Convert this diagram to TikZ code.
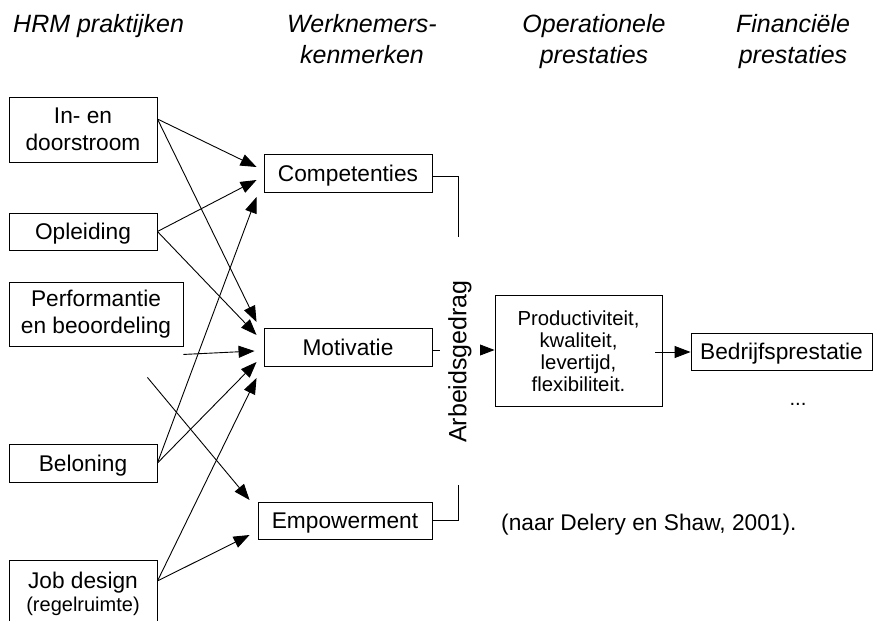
\documentclass[tikz,border=0pt]{standalone}
\usepackage{fontspec}
\setmainfont{Liberation Sans}
\usetikzlibrary{arrows.meta,calc}

\newcommand\bxfont{\fontsize{22.7}{26.5}\selectfont}
\newcommand\hdfont{\fontsize{25}{31.5}\selectfont}
\newcommand\smfont{\fontsize{20.3}{22}\selectfont}

\tikzset{
  box/.style={draw, line width=0.9pt, inner sep=0pt, align=center, font=\bxfont},
  oneline/.style={box, text depth=0pt},
  head/.style={font=\hdfont\itshape, align=center, inner sep=0pt},
  tip/.tip={Triangle[length=16pt,width=12pt]},
  link/.style={line width=0.9pt, -tip},
  plain/.style={line width=0.9pt},
}

\begin{document}
\begin{tikzpicture}[x=1pt,y=-1pt]
\useasboundingbox (0,0) rectangle (873,621);

% column headings
\node[head, anchor=base west] (h1) at (13,32) {HRM praktijken};
\node[head, anchor=north] (h2) at (362,14) {Werknemers-\\kenmerken};
\node[head, anchor=north] (h3) at (594,14) {Operationele\\prestaties};
\node[head, anchor=north] (h4) at (793,14) {Financiële\\prestaties};

% HRM practices
\node[box, minimum width=148pt, minimum height=65pt] (inen) at (83,129.5) {In- en\\doorstroom};
\node[oneline, minimum width=148pt, minimum height=37pt] (opl) at (83,231.5) {Opleiding};
\node[box, minimum width=174pt, minimum height=64pt] (perf) at (96,314) {Performantie\\en beoordeling};
\node[oneline, minimum width=148pt, minimum height=38pt] (bel) at (83,463) {Beloning};
\node[box, minimum width=148pt, minimum height=68pt] (job) at (83,594)
  {Job design\\[-4pt]{\fontsize{20}{22}\selectfont(regelruimte)}};

% employee characteristics
\node[oneline, minimum width=168pt, minimum height=38pt] (comp) at (348,173) {Competenties};
\node[oneline, minimum width=168pt, minimum height=38pt] (motiv) at (348,347) {Motivatie};
\node[oneline, minimum width=174pt, minimum height=37pt] (emp) at (345,520.5) {Empowerment};

% performance
\node[box, font=\smfont, minimum width=167pt, minimum height=111pt] (prod) at (578.5,351)
  {Productiviteit,\\kwaliteit,\\levertijd,\\flexibiliteit.};
\node[oneline, minimum width=181pt, minimum height=37pt] (bedr) at (781.5,351.5) {Bedrijfsprestatie};
\node[font=\smfont, anchor=base, inner sep=0pt] (dots) at (798,405) {...};
\node[font=\bxfont, anchor=base west, inner sep=0pt] (bron) at (501,530) {(naar Delery en Shaw, 2001).};

% loose line starts below the appraisal box
\coordinate (pf1) at ($(perf.south east)+(0,8)$);
\coordinate (pf2) at ($(perf.south east)+(-36,31)$);

% practices -> characteristics
\draw[link] ([yshift=10.5pt]inen.east) -- ($(comp.west)+(-7,-6)$);
\draw[link] ([yshift=10.5pt]inen.east) -- ($(motiv.west)+(-7,-25)$);
\draw[link] (opl.east) -- ($(comp.west)+(-7,7)$);
\draw[link] (opl.east) -- ($(motiv.west)+(-7,-12)$);
\draw[link] (pf1) -- ($(motiv.west)+(-9,4)$);
\draw[link] (pf2) -- ($(emp.west)+(-8,-20.5)$);
\draw[link] (bel.east) -- ($(comp.west)+(-7,24)$);
\draw[link] (bel.east) -- ($(motiv.west)+(-7,15)$);
\draw[link] ([yshift=13pt]job.east) -- ($(motiv.west)+(-7,31)$);
\draw[link] ([yshift=13pt]job.east) -- ($(emp.west)+(-8,14.5)$);

% bracket around work behaviour
\coordinate (bt) at (458,237);
\coordinate (bb) at (458,485);
\draw[plain] ([yshift=-3pt]comp.east) -| (bt);
\draw[plain] (emp.east) -| (bb);
\draw[link] ([yshift=-3pt]motiv.east) -- ([yshift=-3pt]motiv.east -| prod.west);
\node[rotate=90, fill=white, inner xsep=0pt, inner ysep=8.5pt, font=\hdfont] (gedrag) at (460,361.5) {Arbeidsgedrag};

% operational -> financial
\draw[link, shorten <=-7pt] ([yshift=-1pt]prod.east) -- ([yshift=-1pt]prod.east -| bedr.west);
\end{tikzpicture}
\end{document}
